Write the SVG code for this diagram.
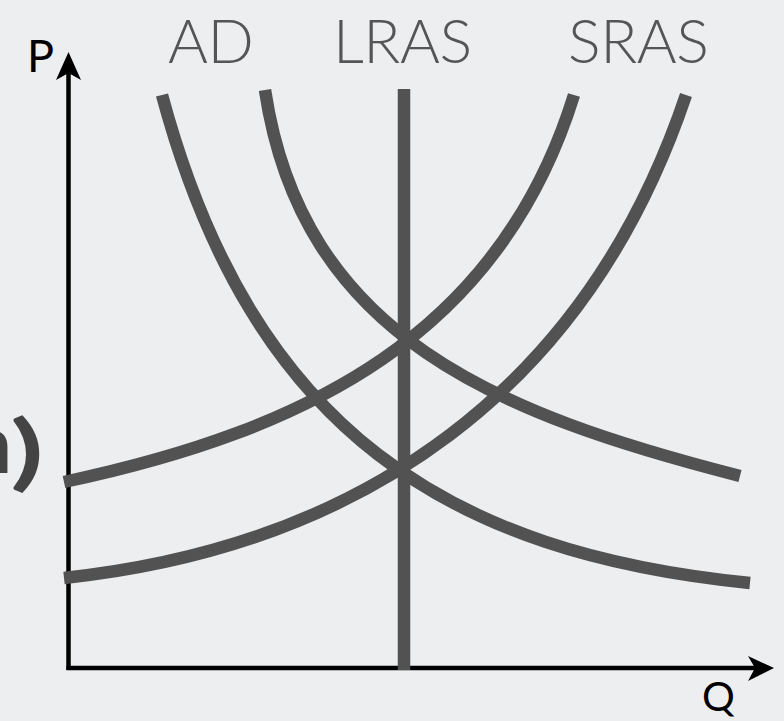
<svg xmlns="http://www.w3.org/2000/svg" width="784" height="721" viewBox="0 0 784 721">
<style>
.curve{fill:none;stroke:#525252;stroke-width:12.5;stroke-linecap:butt}
.axis{fill:none;stroke:#000;stroke-width:4.5}
.lbl{font-family:Lato,"Open Sans","Liberation Sans",sans-serif;font-weight:300;fill:#555;font-size:61px;letter-spacing:-0.5px}
.ax{font-family:Lato,"Open Sans","Liberation Sans",sans-serif;font-weight:400;fill:#000}
.cut{font-family:Lato,"Liberation Sans",sans-serif;font-weight:700;fill:#444;font-size:82px}
</style>
<rect width="784" height="721" fill="#eceef0"/>
<g id="cut-text">
<text class="cut" x="12" y="473" text-anchor="end">n</text>
<text class="cut" transform="translate(27,480) scale(1.5,1)" x="0" y="0" text-anchor="middle" font-size="90">)</text>
</g>
<g id="axes">
<line class="axis" x1="68.5" y1="670" x2="68.5" y2="72"/>
<polygon points="68.5,52 81,80 68.5,73 56,80" fill="#000"/>
<line class="axis" x1="66.5" y1="668" x2="756" y2="668"/>
<polygon points="774,668 748,656 755,668 748,681" fill="#000"/>
<text class="ax" x="27" y="72" font-size="45">P</text>
<text class="ax" x="702" y="711" font-size="41">Q</text>
</g>
<g id="connectors">
<path id="AD1" class="curve" d="M162,95 C253,433 451,553 750,583"/>
<path id="AD2" class="curve" d="M265,90 C302,337 498,414 740,476"/>
<path id="SRAS1" class="curve" d="M574,95 C500,334 309,430 64,482"/>
<path id="SRAS2" class="curve" d="M686,95 C587,389 363,546 64,578"/>
<line id="LRAS" class="curve" x1="404" y1="89" x2="404" y2="670"/>
</g>
<g id="labels">
<text class="lbl" x="168" y="63">AD</text>
<text class="lbl" x="333" y="63">LRAS</text>
<text class="lbl" x="568" y="63">SRAS</text>
</g>
</svg>
